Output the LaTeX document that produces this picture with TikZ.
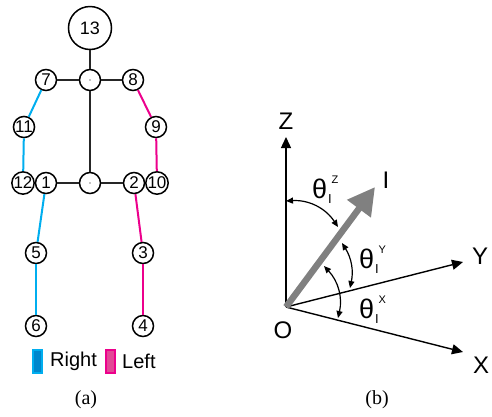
\documentclass[tikz,border=0pt]{standalone}
\usepackage{fontspec}
\setmainfont{Liberation Sans}
\newfontfamily\capfont{Liberation Serif}
\usetikzlibrary{arrows.meta}
\definecolor{rcyan}{RGB}{0,174,239}
\definecolor{lmag}{RGB}{236,0,140}
\definecolor{rfill}{RGB}{0,135,205}
\definecolor{lfill}{RGB}{226,72,150}
\definecolor{igray}{RGB}{128,128,128}
\newcommand{\thlab}[1]{θ\hspace{1pt}\rlap{\raisebox{-5pt}{\fontsize{13}{13}\selectfont I}}\hspace{3.5pt}\raisebox{15pt}{\fontsize{11}{11}\selectfont #1}}
\begin{document}
\begin{tikzpicture}[x=1pt,y=-1pt,
  joint/.style={circle,draw,line width=1.5pt,fill=white,minimum size=21pt,inner sep=0pt,font=\fontsize{17}{17}\selectfont},
  bone/.style={line width=2.2pt,black!85},
  rbone/.style={line width=2pt,rcyan},
  lbone/.style={line width=2pt,lmag},
  axis/.style={line width=1.4pt,-{Triangle[length=11pt,width=10pt]}},
  ang/.style={line width=1.2pt,{Triangle[length=7pt,width=6pt]}-{Triangle[length=7pt,width=6pt]}},
  lab/.style={font=\fontsize{24}{24}\selectfont,inner sep=0pt},
  thnode/.style={font=\fontsize{27}{27}\selectfont,inner sep=0pt,anchor=base west},
  legtext/.style={font=\fontsize{20}{20}\selectfont,inner sep=0pt,anchor=west},
  caption/.style={font=\capfont\fontsize{20}{20}\selectfont,inner sep=0pt}
  ]
\path[use as bounding box] (0,0) rectangle (492,416);

% ---- skeleton ----
\node[joint,minimum size=43pt,font=\fontsize{18}{18}\selectfont] (n13) at (90,28) {13};
\node[joint] (top) at (90,80) {};
\node[joint] (n7) at (46,80) {7};
\node[joint] (n8) at (133,80) {8};
\node[joint] (n11) at (24,127) {11};
\node[joint] (n9) at (156,127) {9};
\node[joint] (n12) at (23,183) {12};
\node[joint] (n1) at (46,183) {1};
\node[joint] (bot) at (90,183) {};
\node[joint] (n2) at (134,183) {2};
\node[joint] (n10) at (157,183) {10};
\node[joint] (n5) at (36,253) {5};
\node[joint] (n3) at (143,253) {3};
\node[joint] (n6) at (36,326) {6};
\node[joint] (n4) at (143,326) {4};
\fill (top) circle (0.7pt);
\fill (bot) circle (0.7pt);

\draw[bone] (n13) -- (top);
\draw[bone] (n7) -- (top);
\draw[bone] (top) -- (n8);
\draw[bone] (top) -- (bot);
\draw[bone] (n1) -- (bot);
\draw[bone] (bot) -- (n2);
\draw[rbone] (n7) -- (n11);
\draw[rbone] (n11) -- (n12);
\draw[rbone] (n1) -- (n5);
\draw[rbone] (n5) -- (n6);
\draw[lbone] (n8) -- (n9);
\draw[lbone] (n9) -- (n10);
\draw[lbone] (n2) -- (n3);
\draw[lbone] (n3) -- (n4);

% legend
\draw[rcyan,line width=1.5pt,fill=rfill] (33,350) rectangle (42,373);
\node[legtext] (lr) at (50,361) {Right};
\draw[lmag,line width=1.5pt,fill=lfill] (106,350) rectangle (115,373);
\node[legtext] (ll) at (122,361) {Left};
\node[caption] (ca) at (86,400) {(a)};

% ---- angles panel ----
\coordinate (O) at (286,307);
\coordinate (Zt) at (286,137);
\coordinate (Yt) at (463,262);
\coordinate (Xt) at (463,352);
\coordinate (It) at (375,187);
\draw[axis] (O) -- (Zt);
\draw[axis] (O) -- (Yt);
\draw[axis] (O) -- (Xt);
\draw[igray,line width=6.5pt,-{Triangle[length=27pt,width=28pt]}] (O) -- (It);

\node[lab] (Z) at (286,121) {Z};
\node[lab] (Y) at (480,256) {Y};
\node[lab] (X) at (481,365) {X};
\node[lab] (Ol) at (283,330) {O};
\node[lab] (I) at (386,180) {I};

\coordinate (az1) at (286,201);
\coordinate (az2) at (338,227);
\coordinate (ay1) at (342,243);
\coordinate (ay2) at (350,288);
\coordinate (ax1) at (324,266);
\coordinate (ax2) at (338,318);
\draw[ang] (az1) to[bend left=30] (az2);
\draw[ang] (ay1) to[bend left=22] (ay2);
\draw[ang] (ax1) to[bend left=28] (ax2);

\node[thnode] (tz) at (312,198) {\thlab{Z}};
\node[thnode] (ty) at (359,268) {\thlab{Y}};
\node[thnode] (tx) at (359,318) {\thlab{X}};

\node[caption] (cb) at (377,400) {(b)};
\end{tikzpicture}
\end{document}
